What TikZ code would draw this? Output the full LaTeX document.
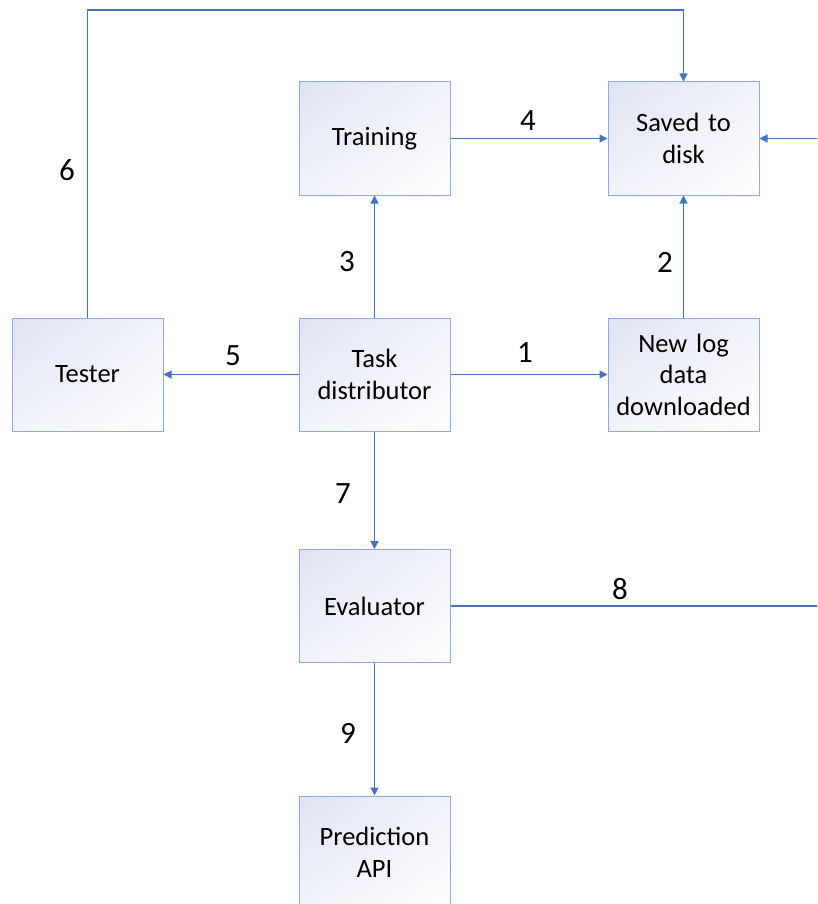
\documentclass[tikz,border=0pt]{standalone}
\usepackage{fontspec}
\setmainfont{Carlito}
\usetikzlibrary{arrows.meta,shadings}
\definecolor{arrowblue}{RGB}{68,114,196}
\definecolor{boxline}{RGB}{143,170,220}
\definecolor{boxshade}{RGB}{224,227,243}
\begin{document}
\begin{tikzpicture}[x=1pt,y=-1pt,
  box/.style={draw=boxline, line width=1pt,
    upper left=boxshade, lower right=white,
    upper right=boxshade!45!white, lower left=boxshade!45!white,
    minimum width=151pt, minimum height=113pt, align=center,
    font=\fontsize{26.5}{31.5}\selectfont, inner sep=0pt, text width=148pt},
  conn/.style={draw=arrowblue, line width=1.2pt, -{Triangle[length=8pt,width=8pt]}},
  num/.style={font=\fontsize{31}{36}\selectfont, inner sep=0pt}]
\useasboundingbox (0,0) rectangle (817,904);
\clip (0,0) rectangle (817,904);
\node[box] (training) at (374.5,138.5) {Training};
\node[box] (saved) at (683.5,138.5) {Saved to\\disk};
\node[box] (tester) at (87.5,374.5) {Tester};
\node[box] (task) at (374.5,374.5) {Task\\distributor};
\node[box] (newlog) at (683.5,374.5) {New log\\data\\downloaded};
\node[box] (eval) at (374.5,606) {Evaluator};
\node[box] (pred) at (374.5,852.5) {Prediction\\API};
\coordinate (topright) at (683.5,10);
\coordinate (offright) at (824,606);
\draw[conn] (task.east) -- (newlog.west);
\draw[conn] (newlog.north) -- (saved.south);
\draw[conn] (task.north) -- (training.south);
\draw[conn] (training.east) -- (saved.west);
\draw[conn] (task.west) -- (tester.east);
\draw[conn] (tester.north) |- (topright) -- (saved.north);
\draw[conn] (task.south) -- (eval.north);
\draw[conn] (eval.east) -- (offright) |- (saved.east);
\draw[conn] (eval.south) -- (pred.north);
\node[num] (n1) at (525,353) {1};
\node[num] (n2) at (665,262) {2};
\node[num] (n3) at (347,262) {3};
\node[num] (n4) at (528,121) {4};
\node[num] (n5) at (233,356) {5};
\node[num] (n6) at (67,170) {6};
\node[num] (n7) at (343,494) {7};
\node[num] (n8) at (620,589) {8};
\node[num] (n9) at (348,733) {9};
\end{tikzpicture}
\end{document}
